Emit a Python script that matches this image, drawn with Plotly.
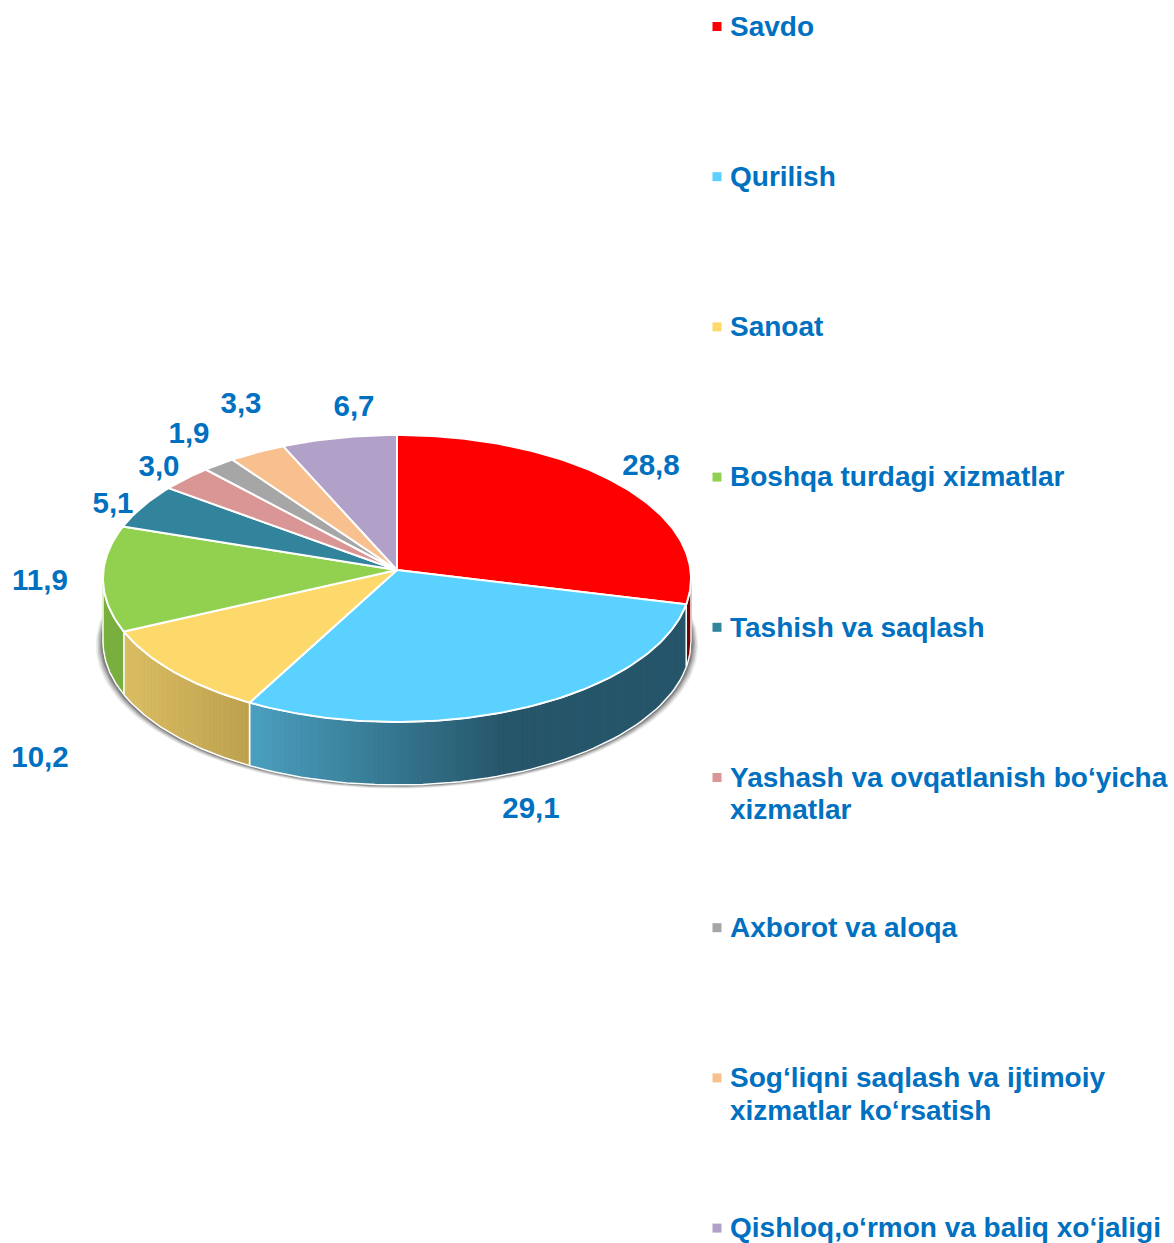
import math
import plotly.graph_objects as go

# ---- data ----
categories = ["Savdo", "Qurilish", "Sanoat", "Boshqa turdagi xizmatlar", "Tashish va saqlash",
              "Yashash va ovqatlanish bo‘yicha<br>xizmatlar", "Axborot va aloqa",
              "Sog‘liqni saqlash va ijtimoiy<br>xizmatlar ko‘rsatish",
              "Qishloq,o‘rmon va baliq xo‘jaligi"]
values = [28.8, 29.1, 10.2, 11.9, 5.1, 3.0, 1.9, 3.3, 6.7]
value_labels = ["28,8", "29,1", "10,2", "11,9", "5,1", "3,0", "1,9", "3,3", "6,7"]
top_colors = ["#FF0000", "#5AD1FF", "#FDD96B", "#92D050", "#31849B", "#D99694", "#A6A6A6", "#F8C08E", "#B1A0C7"]

# ---- styling / layout ----
W, H = 1174, 1243
CX, CY, A, B, K, DEPTH = 397, 570, 293.5, 143, 0.0592, 63
TEXT = "#0070C0"
FONT = "Liberation Sans, Arial, sans-serif"
FS = 28
FS_LABEL = 29.5
label_x = [651, 531, 40, 40, 113, 159, 189, 241, 354]
label_y = [468, 811, 760, 583, 506, 469, 436, 406, 409]
LEG_Y0, LEG_STEP, LEG_LINE, LEG_MX, LEG_TX, LEG_TEXT_DY = 26.5, 150.2, 32.5, 717, 730, 2.3
# side gradients: (x0, rgb0, x1, rgb1)
side_grad = {
    0: (600, (122, 0, 0), 700, (122, 0, 0)),
    1: (250, (74, 160, 192), 505, (38, 86, 106)),
    2: (125, (220, 190, 100), 250, (189, 161, 77)),
    3: (100, (122, 176, 64), 125, (122, 176, 64)),
}


def proj(deg, dz=0.0):
    t = math.radians(deg)
    u, v = math.sin(t), -math.cos(t)
    w = 1 - K * v
    return CX + A * u / w, CY + B * v / w + dz


def col(i, x):
    x0, c0, x1, c1 = side_grad[i]
    f = min(1.0, max(0.0, (x - x0) / (x1 - x0)))
    return "rgb(%d,%d,%d)" % tuple(round(a + (b - a) * f) for a, b in zip(c0, c1))


total = sum(values)
edges = [0.0]
for v in values:
    edges.append(edges[-1] + v / total * 360)

VIS0, VIS1 = 93.4, 266.6
fig = go.Figure()


def poly(xs, ys, fill, line=None, lw=0):
    fig.add_trace(go.Scatter(x=xs, y=ys, mode="lines", fill="toself", fillcolor=fill,
                             line=dict(color=line or fill, width=lw), hoverinfo="skip", showlegend=False))


# soft shadow beneath the outer wall
arc = [VIS0 - 12 + (VIS1 - VIS0 + 24) * j / 120 for j in range(121)]
for grow, alpha in [(7, .10), (5.5, .14), (4, .20), (2.5, .28), (1, .40)]:
    xs, ys = [], []
    for d in arc:
        x, y = proj(d, DEPTH)
        xs.append(CX + (x - CX) * (1 + grow / A))
        ys.append(y + grow * 0.5)
    poly(xs, ys, "rgba(40,40,40,%.2f)" % alpha)

# outer wall strips
for i in side_grad:
    a0, a1 = max(edges[i], VIS0), min(edges[i + 1], VIS1)
    if a1 <= a0:
        continue
    n = max(1, int((a1 - a0) / 0.8))
    for j in range(n):
        d0, d1 = a0 + (a1 - a0) * j / n, a0 + (a1 - a0) * (j + 1) / n
        p = [proj(d0), proj(d1), proj(d1, DEPTH), proj(d0, DEPTH)]
        c = col(i, (p[0][0] + p[1][0]) / 2)
        poly([q[0] for q in p] + [p[0][0]], [q[1] for q in p] + [p[0][1]], c, c, 0.8)
    # white outline of the wall
    ds = [a0 + (a1 - a0) * j / 60 for j in range(61)]
    xy = [proj(d, DEPTH) for d in ds] + [proj(d) for d in reversed(ds)]
    xy.append(xy[0])
    fig.add_trace(go.Scatter(x=[q[0] for q in xy], y=[q[1] for q in xy], mode="lines",
                             line=dict(color="white", width=1.5), hoverinfo="skip", showlegend=False))

# top face slices
for i, c in enumerate(top_colors):
    n = max(4, int((edges[i + 1] - edges[i]) / 1.0))
    ds = [edges[i] + (edges[i + 1] - edges[i]) * j / n for j in range(n + 1)]
    xy = [(CX, CY)] + [proj(d) for d in ds] + [(CX, CY)]
    poly([q[0] for q in xy], [q[1] for q in xy], c, "white", 2)

# value labels
fig.add_trace(go.Scatter(x=label_x, y=label_y, mode="text", text=value_labels, textposition="middle center",
                         textfont=dict(family=FONT, size=FS_LABEL, color=TEXT, weight="bold"),
                         hoverinfo="skip", showlegend=False))

# legend
leg_y = [LEG_Y0 + LEG_STEP * i for i in range(len(categories))]
fig.add_trace(go.Scatter(x=[LEG_MX] * len(categories), y=leg_y, mode="markers",
                         marker=dict(symbol="square", size=9, color=top_colors, line=dict(width=0)),
                         hoverinfo="skip", showlegend=False))
tx, ty, tt = [], [], []
for i, name in enumerate(categories):
    for j, part in enumerate(name.split("<br>")):
        tx.append(LEG_TX)
        ty.append(leg_y[i] + LEG_LINE * j + LEG_TEXT_DY)
        tt.append(part)
fig.add_trace(go.Scatter(x=tx, y=ty, mode="text", text=tt, textposition="middle right",
                         textfont=dict(family=FONT, size=FS, color=TEXT, weight="bold"),
                         hoverinfo="skip", showlegend=False, cliponaxis=False))

fig.update_layout(width=W, height=H, margin=dict(l=0, r=0, t=0, b=0),
                  paper_bgcolor="white", plot_bgcolor="white",
                  xaxis=dict(range=[0, W], visible=False, fixedrange=True),
                  yaxis=dict(range=[H, 0], visible=False, fixedrange=True))
fig.write_html("out.html", config={"displayModeBar": False},
               post_script="document.body.style.margin='0';document.documentElement.style.overflow='hidden';")
